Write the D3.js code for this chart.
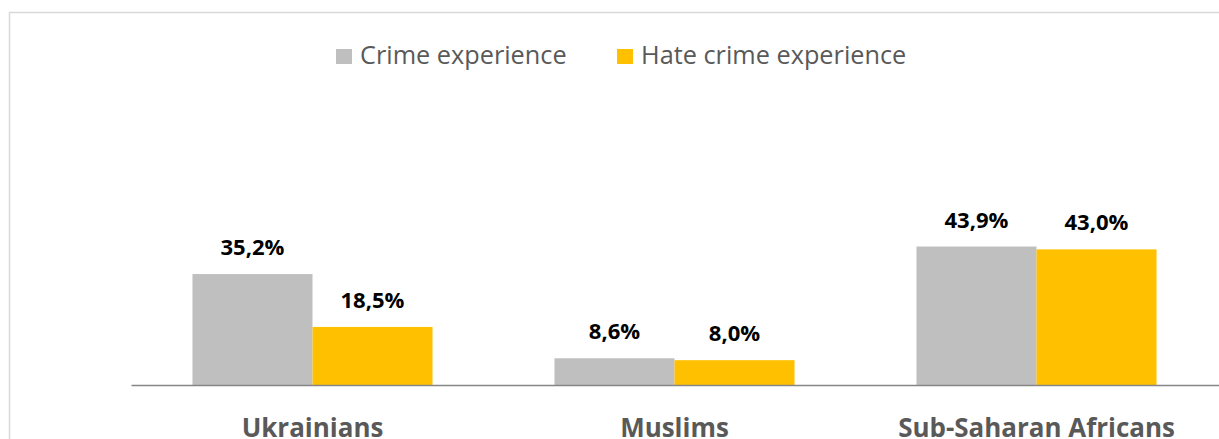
<!DOCTYPE html>
<html>
<head>
<meta charset="utf-8">
<script src="https://cdn.jsdelivr.net/npm/d3@7"></script>
<style>
  html, body { margin: 0; padding: 0; background: #fff; overflow: hidden; }
  svg { display: block; }
</style>
</head>
<body>
<svg id="chart" width="1219" height="439"></svg>
<script>
// ---- data ----
const categories = ["Ukrainians", "Muslims", "Sub-Saharan Africans"];
const seriesNames = ["Crime experience", "Hate crime experience"];
const crimeExperience = [35.2, 8.6, 43.9];
const hateCrimeExperience = [18.5, 8.0, 43.0];
const valueLabels = [["35,2%", "8,6%", "43,9%"], ["18,5%", "8,0%", "43,0%"]];
const seriesColors = ["#bfbfbf", "#ffc000"];

const seriesValues = [crimeExperience, hateCrimeExperience];
const FONT = "'Open Sans', 'Noto Sans', sans-serif";

const svg = d3.select("#chart");

// chart border (extends beyond the visible frame on right/bottom)
svg.append("rect")
  .attr("x", 9.5).attr("y", 12.5)
  .attr("width", 1300).attr("height", 600)
  .attr("fill", "#fff")
  .attr("stroke", "#d9d9d9").attr("stroke-width", 1.5);

const baseY = 385.5;
const x0 = d3.scaleBand().domain(categories).range([131.5, 1217.5]).paddingInner(0).paddingOuter(0);
const x1 = d3.scaleBand().domain(seriesNames).range([0, x0.bandwidth()]).paddingInner(0).paddingOuter(0.508);
const y = d3.scaleLinear().domain([0, 50]).range([baseY, baseY - 158.3]);

// helper to fit text width
function fitSize(text, weight, target) {
  const t = svg.append("text").attr("font-family", FONT).attr("font-weight", weight)
    .attr("font-size", 20).text(text);
  const w = t.node().getComputedTextLength();
  t.remove();
  return 20 * target / w;
}

// bars
const rows = [];
categories.forEach((c, i) => seriesNames.forEach((s, j) => rows.push({c, s, j, v: seriesValues[j][i], label: valueLabels[j][i]})));

svg.append("g").selectAll("rect").data(rows).join("rect")
  .attr("x", d => x0(d.c) + x1(d.s))
  .attr("width", x1.bandwidth())
  .attr("y", d => y(d.v))
  .attr("height", d => baseY - y(d.v))
  .attr("fill", d => seriesColors[d.j]);

// value labels
const labelSize = fitSize("35,2%", "bold", 64);
svg.append("g").selectAll("text").data(rows).join("text")
  .attr("x", d => x0(d.c) + x1(d.s) + x1.bandwidth() / 2)
  .attr("y", d => y(d.v) - 19)
  .attr("text-anchor", "middle")
  .attr("font-family", FONT).attr("font-weight", "bold")
  .attr("font-size", labelSize)
  .attr("fill", "#000")
  .text(d => d.label);

// axis
const catTargets = [140, 108, 282];
const catSize = d3.mean(categories.map((c, i) => fitSize(c, "bold", catTargets[i])));
const axis = svg.append("g").attr("transform", `translate(0,${baseY})`)
  .call(d3.axisBottom(x0).tickSize(0).tickSizeOuter(0));
axis.select(".domain").attr("stroke", "#868686").attr("stroke-width", 1.5)
  .attr("d", "M131.5,0H1219");
axis.selectAll("text")
  .attr("dy", null).attr("y", 51.5)
  .attr("font-family", FONT).attr("font-weight", "bold")
  .attr("font-size", catSize).attr("fill", "#595959");

// legend
const legSize = d3.mean([fitSize(seriesNames[0], "normal", 207), fitSize(seriesNames[1], "normal", 265)]);
const legendX = [336, 617];
const leg = svg.append("g").selectAll("g").data(seriesNames).join("g")
  .attr("transform", (d, i) => `translate(${legendX[i]},0)`);
leg.append("rect").attr("x", 0).attr("y", 49).attr("width", 16).attr("height", 15)
  .attr("fill", (d, i) => seriesColors[i]);
leg.append("text").attr("x", 24).attr("y", 64)
  .attr("font-family", FONT).attr("font-size", legSize).attr("fill", "#595959")
  .text(d => d);
</script>
</body>
</html>
